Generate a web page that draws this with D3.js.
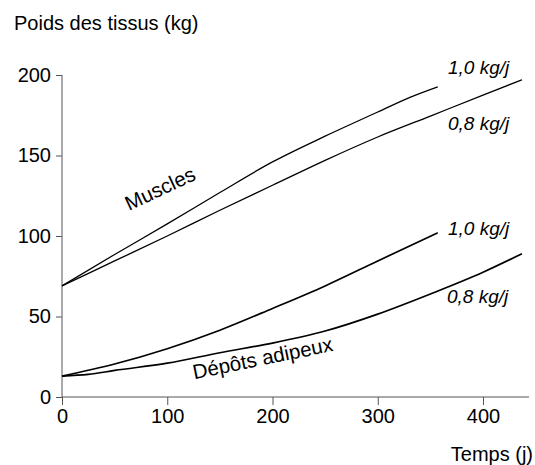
<!DOCTYPE html>
<html><head><meta charset="utf-8">
<script src="https://cdn.jsdelivr.net/npm/d3@7"></script>
<style>body{margin:0;background:#fff}svg{display:block;font-family:"Liberation Sans",Arial,sans-serif}</style>
</head><body>
<svg id="c" width="535" height="465"></svg>
<script>
const xTicks = [0, 100, 200, 300, 400];
const yTicks = [0, 50, 100, 150, 200];
const muscle10Days = [0, 50, 100, 150, 200, 250, 300, 330, 357];
const muscle10Kg   = [69, 88.5, 107.5, 127, 146, 162, 177, 186, 192.7];
const muscle08Days = [0, 50, 100, 150, 200, 250, 300, 350, 400, 437];
const muscle08Kg   = [69, 84.5, 100, 116, 131.5, 147, 161.5, 174.5, 187.5, 197];
const fat10Days = [0, 50, 100, 150, 200, 250, 300, 357];
const fat10Kg   = [13, 20.5, 30, 41.5, 55, 69, 84.5, 102];
const fat08Days = [0, 25, 50, 100, 150, 200, 250, 300, 350, 400, 437];
const fat08Kg   = [13, 14, 16.5, 21, 27.5, 33.5, 41, 51.5, 64, 77.5, 89];
const rateLabels = ["1,0 kg/j", "0,8 kg/j"];

const svg = d3.select("#c");
const x = d3.scaleLinear().domain([0, 400]).range([62, 483]);
const y = d3.scaleLinear().domain([0, 200]).range([397, 75]);
const axisCol = "#555";

// x axis
svg.append("line").attr("x1", x(0)).attr("x2", 529).attr("y1", y(0)).attr("y2", y(0))
  .attr("stroke", axisCol).attr("stroke-width", 1);
const gx = svg.append("g").attr("transform", `translate(0,${y(0)})`)
  .call(d3.axisBottom(x).tickValues(xTicks).tickSize(8).tickPadding(4).tickFormat(d3.format("d")));
gx.select(".domain").remove();
gx.selectAll("line").attr("stroke", axisCol);
gx.selectAll("text").attr("font-size", 20).attr("fill", "#000").attr("font-family", "Liberation Sans, Arial, sans-serif");

// y axis
svg.append("line").attr("x1", x(0)).attr("x2", x(0)).attr("y1", y(200)).attr("y2", y(0))
  .attr("stroke", axisCol).attr("stroke-width", 1);
const gy = svg.append("g").attr("transform", `translate(${x(0)},0)`)
  .call(d3.axisLeft(y).tickValues(yTicks).tickSize(6).tickPadding(5).tickFormat(d3.format("d")));
gy.select(".domain").remove();
gy.selectAll("line").attr("stroke", axisCol);
gy.selectAll("text").attr("font-size", 20).attr("fill", "#000").attr("font-family", "Liberation Sans, Arial, sans-serif");

// titles
svg.append("text").attr("x", 14).attr("y", 30).attr("font-size", 20).text("Poids des tissus (kg)");
svg.append("text").attr("x", 533).attr("y", 461).attr("text-anchor", "end").attr("font-size", 20).text("Temps (j)");

// curves
const line = d3.line().x(d => x(d[0])).y(d => y(d[1])).curve(d3.curveMonotoneX);
const series = [
  {days: muscle10Days, kg: muscle10Kg, w: 1.3},
  {days: muscle08Days, kg: muscle08Kg, w: 1.3},
  {days: fat10Days, kg: fat10Kg, w: 1.7},
  {days: fat08Days, kg: fat08Kg, w: 1.7}
];
series.forEach(s => {
  svg.append("path").datum(d3.zip(s.days, s.kg)).attr("d", line)
    .attr("fill", "none").attr("stroke", "#000").attr("stroke-width", s.w);
});

// rate labels
const lab = (t, px, py) => svg.append("text").attr("x", px).attr("y", py)
  .attr("font-size", 19).attr("font-style", "italic").text(t);
lab(rateLabels[0], 448, 74);
lab(rateLabels[1], 448, 130);
lab(rateLabels[0], 448, 235);
lab(rateLabels[1], 447, 303);

// group labels
svg.append("text").attr("transform", "translate(163,195) rotate(-25)")
  .attr("text-anchor", "middle").attr("font-size", 20.5).text("Muscles");
svg.append("text").attr("transform", "translate(264,365) rotate(-11.5)")
  .attr("text-anchor", "middle").attr("font-size", 20.5).text("Dépôts adipeux");
</script>
</body></html>
